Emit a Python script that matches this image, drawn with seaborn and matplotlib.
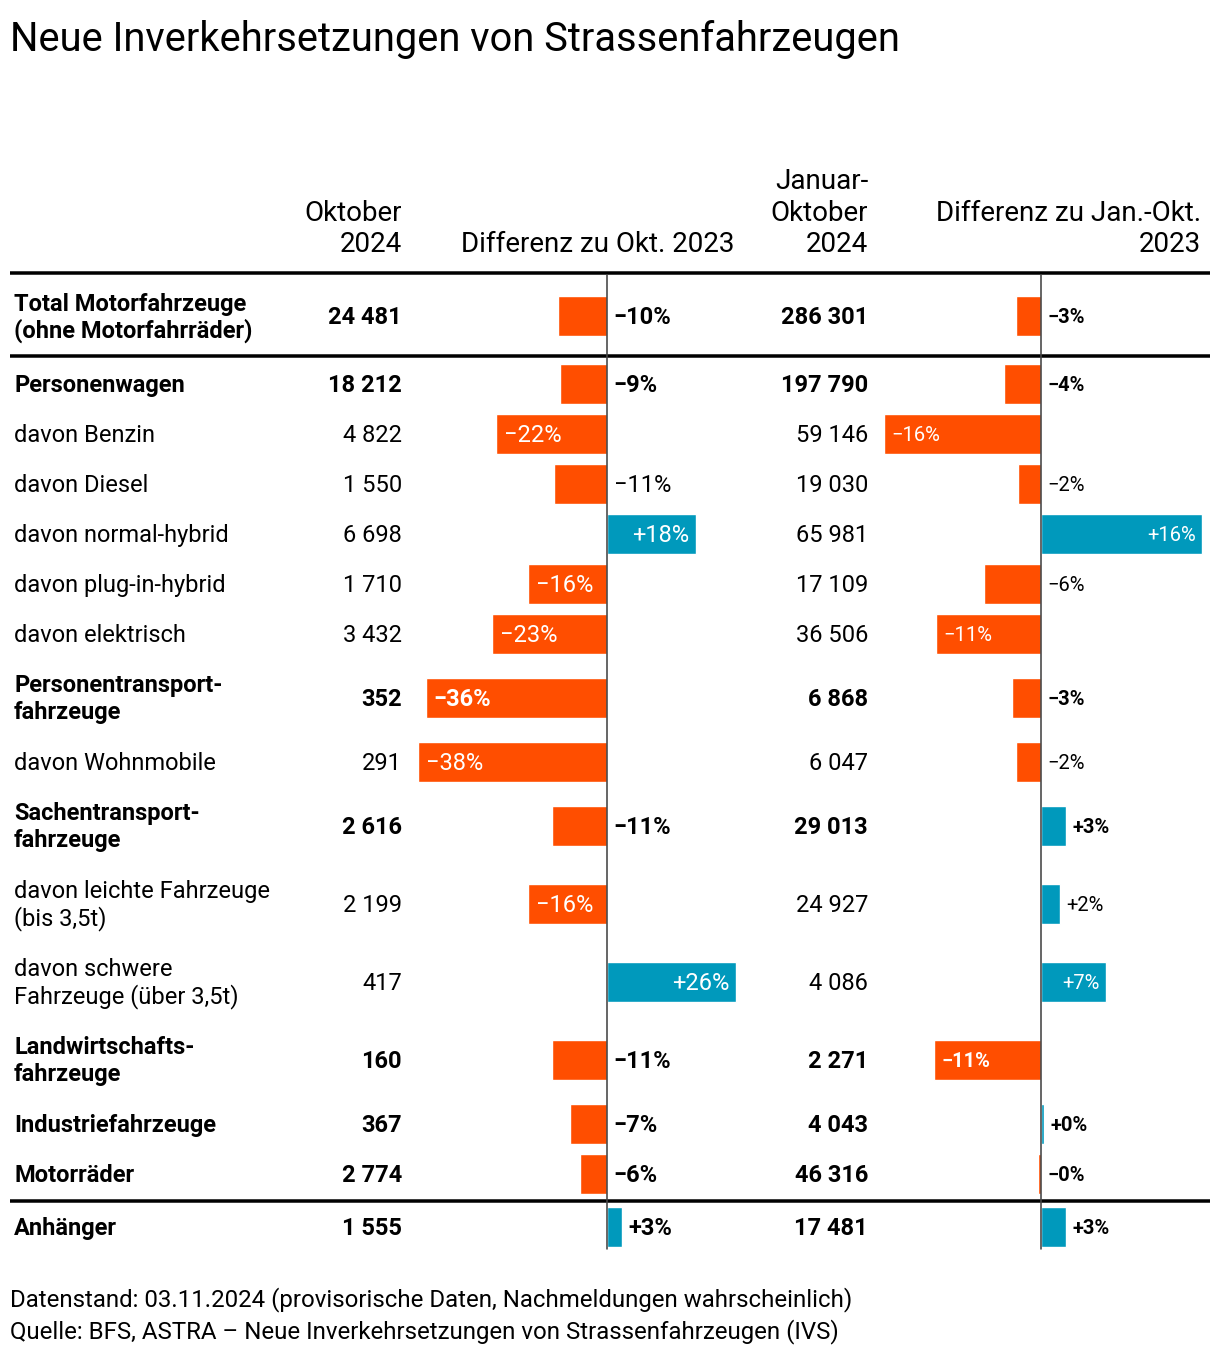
import numpy as np
import pandas as pd
import matplotlib
matplotlib.use("Agg")
import matplotlib.pyplot as plt
import seaborn as sns

# ---------------- data ----------------
row_labels = ["Total Motorfahrzeuge\n(ohne Motorfahrräder)", "Personenwagen", "davon Benzin",
              "davon Diesel", "davon normal-hybrid", "davon plug-in-hybrid", "davon elektrisch",
              "Personentransport-\nfahrzeuge", "davon Wohnmobile", "Sachentransport-\nfahrzeuge",
              "davon leichte Fahrzeuge\n(bis 3,5t)", "davon schwere\nFahrzeuge (über 3,5t)",
              "Landwirtschafts-\nfahrzeuge", "Industriefahrzeuge", "Motorräder", "Anhänger"]
row_bold = [True, True, False, False, False, False, False, True, False, True,
            False, False, True, True, True, True]
okt_2024 = [24481, 18212, 4822, 1550, 6698, 1710, 3432, 352, 291, 2616, 2199, 417, 160, 367, 2774, 1555]
okt_diff = [-9.8, -9.4, -22.2, -10.6, 17.8, -15.8, -23.0, -36.2, -37.8, -11.0,
            -15.8, 25.8, -11.0, -7.4, -5.4, 3.0]
okt_diff_labels = ["−10%", "−9%", "−22%", "−11%", "+18%", "−16%", "−23%", "−36%", "−38%", "−11%",
                   "−16%", "+26%", "−11%", "−7%", "−6%", "+3%"]
jan_okt_2024 = [286301, 197790, 59146, 19030, 65981, 17109, 36506, 6868, 6047, 29013,
                24927, 4086, 2271, 4043, 46316, 17481]
jan_diff = [-2.5, -3.7, -15.7, -2.3, 16.1, -5.7, -10.5, -2.9, -2.5, 2.5,
            1.9, 6.5, -10.7, 0.3, -0.3, 2.5]
jan_diff_labels = ["−3%", "−4%", "−16%", "−2%", "+16%", "−6%", "−11%", "−3%", "−2%", "+3%",
                   "+2%", "+7%", "−11%", "+0%", "−0%", "+3%"]

title = "Neue Inverkehrsetzungen von Strassenfahrzeugen"
footer = ["Datenstand: 03.11.2024 (provisorische Daten, Nachmeldungen wahrscheinlich)",
          "Quelle: BFS, ASTRA – Neue Inverkehrsetzungen von Strassenfahrzeugen (IVS)"]

# ---------------- style ----------------
sns.set_style("white")
plt.rcParams['font.family'] = ['Roboto', 'DejaVu Sans']
ORANGE = "#FF4E00"
BLUE = "#0099BC"
W, H = 1220, 1356
DPI = 100
PX = 72 / DPI  # points per pixel

BODY = 17.0
HEAD = 20.0
SMALL = 14.5
FOOT = 17.3
TITLE = 28.7

fig = plt.figure(figsize=(W / DPI, H / DPI), dpi=DPI)
bg = fig.add_axes([0, 0, 1, 1])
bg.set_xlim(0, W)
bg.set_ylim(H, 0)
bg.set_axis_off()


def txt(ax, x, yc, s, size, ha="left", weight="normal", color="black"):
    # place text with visual (cap) center at yc pixels
    size_px = size / PX
    ax.text(x, yc + 0.355 * size_px, s, fontsize=size, ha=ha, va="baseline",
            fontweight=weight, color=color)


# ---------------- layout of rows ----------------
centers = []
y = 277
for i, lab in enumerate(row_labels):
    h = 78 if "\n" in lab else 50
    centers.append(y + h / 2)
    y += h
    if i in (0, 14):
        y += 3.5

# title
txt(bg, 10, 37, title, TITLE)

# headers
txt(bg, 402, 211, "Oktober", HEAD, ha="right")
txt(bg, 402, 242, "2024", HEAD, ha="right")
txt(bg, 734, 242, "Differenz zu Okt. 2023", HEAD, ha="right")
txt(bg, 868, 179, "Januar-", HEAD, ha="right")
txt(bg, 868, 211, "Oktober", HEAD, ha="right")
txt(bg, 868, 242, "2024", HEAD, ha="right")
txt(bg, 1201, 211, "Differenz zu Jan.-Okt.", HEAD, ha="right")
txt(bg, 1201, 242, "2023", HEAD, ha="right")

# horizontal rules
for yr in (273, 356, 1200.5):
    bg.plot([10, 1210], [yr, yr], color="black", lw=3.5 * PX, solid_capstyle="butt")


def fmt(v):
    return f"{v:,}".replace(",", " ")


for i, lab in enumerate(row_labels):
    wgt = "bold" if row_bold[i] else "normal"
    c = centers[i]
    lines = lab.split("\n")
    if len(lines) == 2:
        txt(bg, 14, c - 13.5, lines[0], BODY, weight=wgt)
        txt(bg, 14, c + 13.5, lines[1], BODY, weight=wgt)
    else:
        txt(bg, 14, c, lines[0], BODY, weight=wgt)
    txt(bg, 402, c, fmt(okt_2024[i]), BODY, ha="right", weight=wgt)
    txt(bg, 868, c, fmt(jan_okt_2024[i]), BODY, ha="right", weight=wgt)

# footer
txt(bg, 10, 1298, footer[0], FOOT)
txt(bg, 10, 1330, footer[1], FOOT)


# ---------------- bar columns ----------------
def bar_column(x0, x1, zero_px, px_per_unit, values, labels, fsize):
    ax = fig.add_axes([x0 / W, 0, (x1 - x0) / W, 1])
    df = pd.DataFrame({"val": values, "pos": centers,
                       "sign": ["neg" if v < 0 else "pos" for v in values]})
    sns.barplot(data=df, x="val", y="pos", hue="sign", orient="h", native_scale=True,
                palette={"neg": ORANGE, "pos": BLUE}, width=0.8, saturation=1,
                errorbar=None, legend=False, dodge=False, ax=ax)
    ax.set_xlim((x0 - zero_px) / px_per_unit, (x1 - zero_px) / px_per_unit)
    ax.set_ylim(H, 0)
    ax.set_axis_off()
    ax.plot([0, 0], [275, 1249], color="#444444", lw=1.6 * PX, zorder=5)
    for i, v in enumerate(values):
        wgt = "bold" if row_bold[i] else "normal"
        c = centers[i]
        if abs(v) * px_per_unit > 60:
            if v < 0:
                txt(ax, v + 7.5 / px_per_unit, c, labels[i], fsize, ha="left", weight=wgt, color="white")
            else:
                txt(ax, v - 6.5 / px_per_unit, c, labels[i], fsize, ha="right", weight=wgt, color="white")
        else:
            xs = (6.5 / px_per_unit) if v < 0 else v + 6.5 / px_per_unit
            txt(ax, xs, c, labels[i], fsize, ha="left", weight=wgt)
    return ax


bar_column(410, 752, 607, 5.0, okt_diff, okt_diff_labels, BODY)
bar_column(872, 1218, 1041, 10.0, jan_diff, jan_diff_labels, SMALL)

fig.savefig("out.png", dpi=DPI)
